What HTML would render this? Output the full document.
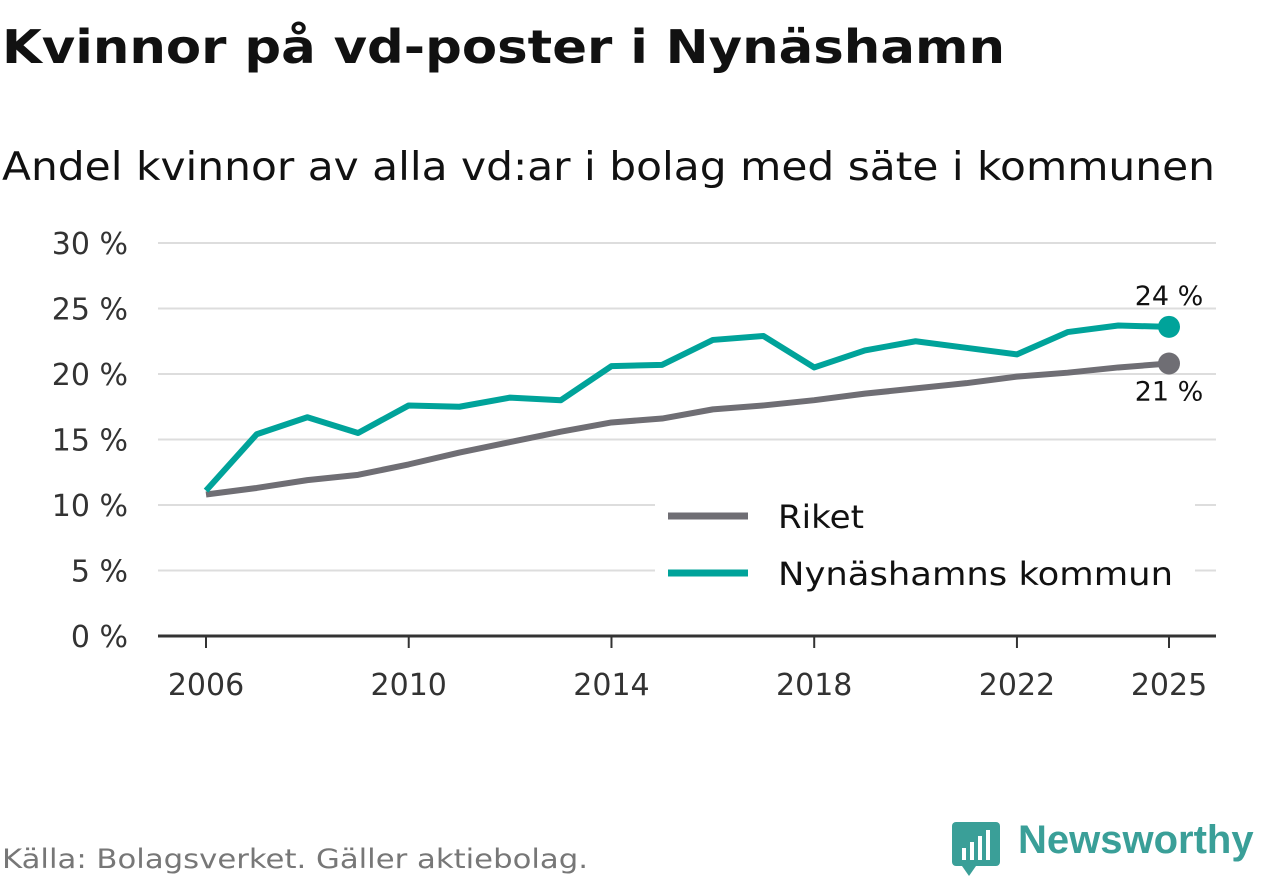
<!DOCTYPE html>
<html><head><meta charset="utf-8"><style>
body{margin:0;width:1262px;height:879px;background:#fff;font-family:"DejaVu Sans","Liberation Sans",sans-serif;overflow:hidden;position:relative}
.t{position:absolute;white-space:nowrap}
</style></head><body>
<svg id="c" width="1262" height="879" style="position:absolute;left:0;top:0">
<text x="2" y="63" font-size="46" font-weight="bold" fill="#111" textLength="1003" lengthAdjust="spacingAndGlyphs">Kvinnor på vd-poster i Nynäshamn</text>
<text x="2" y="180" font-size="39" fill="#111" textLength="1213" lengthAdjust="spacingAndGlyphs">Andel kvinnor av alla vd:ar i bolag med säte i kommunen</text>
<text x="2" y="868" font-size="27" fill="#777" textLength="586" lengthAdjust="spacingAndGlyphs">Källa: Bolagsverket. Gäller aktiebolag.</text>
</svg>
<svg style="position:absolute;left:950px;top:820px" width="52" height="58">
<rect x="2" y="2" width="48" height="44" rx="4" fill="#3a9f98"/><polygon points="12,46 26,46 19,56" fill="#3a9f98"/>
<rect x="12" y="28" width="4" height="12" fill="#fff"/><rect x="20" y="22" width="4" height="18" fill="#fff"/><rect x="28" y="16" width="4" height="24" fill="#fff"/><rect x="36" y="10" width="4" height="30" fill="#fff"/>
</svg>
<div class="t" style="left:1018px;top:818px;font-size:40px;font-weight:bold;color:#3a9f98;font-family:'Liberation Sans',sans-serif">Newsworthy</div>
<script>
const years=[2006,2007,2008,2009,2010,2011,2012,2013,2014,2015,2016,2017,2018,2019,2020,2021,2022,2023,2024,2025];
const riket=[10.8,11.3,11.9,12.3,13.1,14.0,14.8,15.6,16.3,16.6,17.3,17.6,18.0,18.5,18.9,19.3,19.8,20.1,20.5,20.8];
const nynas=[11.1,15.4,16.7,15.5,17.6,17.5,18.2,18.0,20.6,20.7,22.6,22.9,20.5,21.8,22.5,22.0,21.5,23.2,23.7,23.6];
const yTicks=[0,5,10,15,20,25,30];
const xTicks=[2006,2010,2014,2018,2022,2025];
const svg=document.getElementById('c');const NS='http://www.w3.org/2000/svg';
const x=v=>206+(v-2006)*(1169-206)/19;
const y=v=>636-v*(636-243)/30;
function el(tag,a,name){const e=document.createElementNS(NS,tag);for(const k in a)e.setAttribute(k,a[k]);


svg.appendChild(e);return e;}
yTicks.forEach(t=>{
 if(t>0)el('line',{x1:158,x2:1216,y1:y(t),y2:y(t),stroke:'#ddd','stroke-width':2},'gridline');
 const tx=el('text',{x:128,y:y(t)+11,'text-anchor':'end','font-size':30,fill:'#333'},'y-tick-label');tx.textContent=t+' %';
});
el('line',{x1:158,x2:1216,y1:636,y2:636,stroke:'#333','stroke-width':3},'x-axis');
xTicks.forEach(t=>{
 el('line',{x1:x(t),x2:x(t),y1:636,y2:648,stroke:'#333','stroke-width':2},'x-tick');
 const tx=el('text',{x:x(t),y:695,'text-anchor':'middle','font-size':30,fill:'#333'},'x-tick-label');tx.textContent=t;
});
function line(d,col,name){el('polyline',{points:d.map((v,i)=>x(years[i])+','+y(v)).join(' '),fill:'none',stroke:col,'stroke-width':6,'stroke-linejoin':'round'},name);
 el('circle',{cx:x(years[years.length-1]),cy:y(d[d.length-1]),r:11,fill:col},name+'-end-dot');}
line(riket,'#6f6e74','riket-line');
line(nynas,'#00a39a','nynashamn-line');
let l=el('text',{x:1169,y:y(nynas[19])-22,'text-anchor':'middle','font-size':27,fill:'#111'},'end-label-nynashamn');l.textContent=Math.round(nynas[19])+' %';
l=el('text',{x:1169,y:y(riket[19])+37,'text-anchor':'middle','font-size':27,fill:'#111'},'end-label-riket');l.textContent=Math.round(riket[19])+' %';
el('rect',{x:655,y:490,width:540,height:115,fill:'#fff'},'legend-bg');
el('line',{x1:668,x2:748,y1:516,y2:516,stroke:'#6f6e74','stroke-width':7},'legend-swatch-riket');
l=el('text',{x:778,y:528,'font-size':32,fill:'#111',textLength:86,lengthAdjust:'spacingAndGlyphs'},'legend-entry-riket');l.textContent='Riket';
el('line',{x1:668,x2:748,y1:573,y2:573,stroke:'#00a39a','stroke-width':7},'legend-swatch-nynashamn');
l=el('text',{x:778,y:585,'font-size':32,fill:'#111',textLength:395,lengthAdjust:'spacingAndGlyphs'},'legend-entry-nynashamn');l.textContent='Nynäshamns kommun';
</script>
</body></html>
